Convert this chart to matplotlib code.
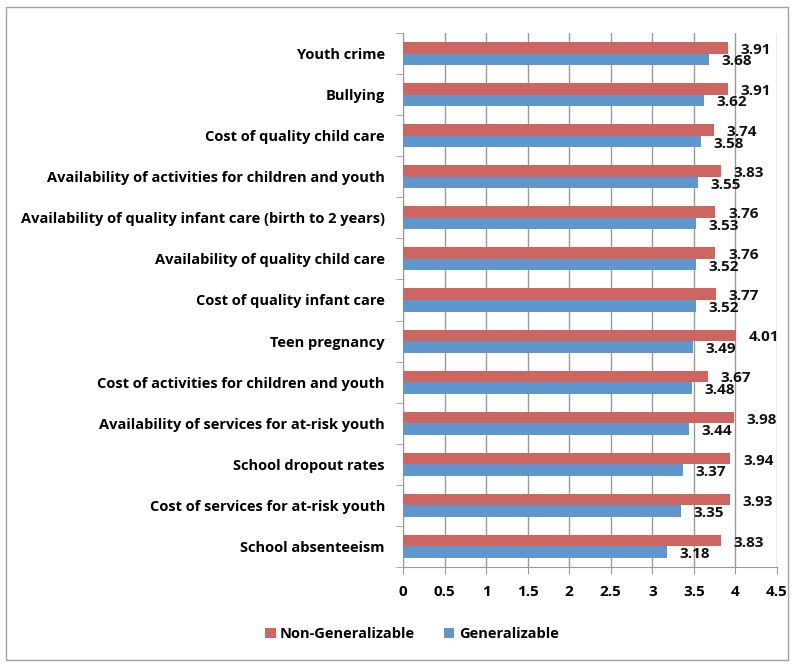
import matplotlib
matplotlib.use("Agg")
import matplotlib.pyplot as plt
import numpy as np
from matplotlib.patches import Rectangle

categories = ["Youth crime", "Bullying", "Cost of quality child care",
              "Availability of activities for children and youth",
              "Availability of quality infant care (birth to 2 years)",
              "Availability of quality child care", "Cost of quality infant care",
              "Teen pregnancy", "Cost of activities for children and youth",
              "Availability of services for at-risk youth", "School dropout rates",
              "Cost of services for at-risk youth", "School absenteeism"]
non_gen = [3.91, 3.91, 3.74, 3.83, 3.76, 3.76, 3.77, 4.01, 3.67, 3.98, 3.94, 3.93, 3.83]
gen = [3.68, 3.62, 3.58, 3.55, 3.53, 3.52, 3.52, 3.49, 3.48, 3.44, 3.37, 3.35, 3.18]
xticks = [0, 0.5, 1, 1.5, 2, 2.5, 3, 3.5, 4, 4.5]
xtick_labels = ["0", "0.5", "1", "1.5", "2", "2.5", "3", "3.5", "4", "4.5"]

plt.rcParams['font.family'] = ['Open Sans', 'DejaVu Sans']
plt.rcParams['font.weight'] = 'bold'

red = "#CD6560"
blue = "#5F96CC"

fig = plt.figure(figsize=(7.92, 6.65), dpi=100)
ax = fig.add_axes([403/792, 1 - 567/665, (777-403)/792, (567-33)/665])

n = len(categories)
y = np.arange(n)[::-1]
h = 0.28
ax.barh(y + h/2, non_gen, height=h, color=red, label="Non-Generalizable", zorder=3)
ax.barh(y - h/2, gen, height=h, color=blue, label="Generalizable", zorder=3)

for yi, v in zip(y, non_gen):
    ax.annotate(f"{v:.2f}", (v, yi + h/2), xytext=(9, -1.5), textcoords="offset points",
                ha="left", va="center", fontsize=11, fontweight="bold", color="#111111", zorder=4)
for yi, v in zip(y, gen):
    ax.annotate(f"{v:.2f}", (v, yi - h/2), xytext=(9, -1.5), textcoords="offset points",
                ha="left", va="center", fontsize=11, fontweight="bold", color="#111111", zorder=4)

ax.set_xlim(0, 4.5)
ax.set_ylim(-0.5, n - 0.5)
ax.set_xticks(xticks)
ax.set_xticklabels(xtick_labels, fontsize=11, fontweight="bold")
ax.set_yticks(y)
ax.set_yticklabels(categories, fontsize=10.5, fontweight="bold")
ax.set_yticks(np.arange(-0.5, n, 1), minor=True)
ax.tick_params(axis="y", which="major", length=0, pad=13)
ax.tick_params(axis="y", which="minor", length=5, color="#999999")
ax.tick_params(axis="x", which="major", length=5, color="#999999", pad=8)
ax.grid(axis="x", color="#999999", linewidth=1, zorder=0)
for s in ["top", "right"]:
    ax.spines[s].set_visible(False)
for s in ["left", "bottom"]:
    ax.spines[s].set_color("#999999")

handles, labels = ax.get_legend_handles_labels()
fig.legend(handles=handles, labels=labels,
           loc="center", bbox_to_anchor=(412/792, 1 - 634/665), ncol=2, frameon=False,
           prop={"weight": "bold", "size": 10.5}, handlelength=0.7, handleheight=0.7,
           columnspacing=2.0, handletextpad=0.3)

fig.patches.append(Rectangle((6/792, 1 - 660/665), 782/792, 653/665, transform=fig.transFigure,
                             fill=False, edgecolor="#A0A0A0", linewidth=1))
fig.savefig("out.png", dpi=100)
